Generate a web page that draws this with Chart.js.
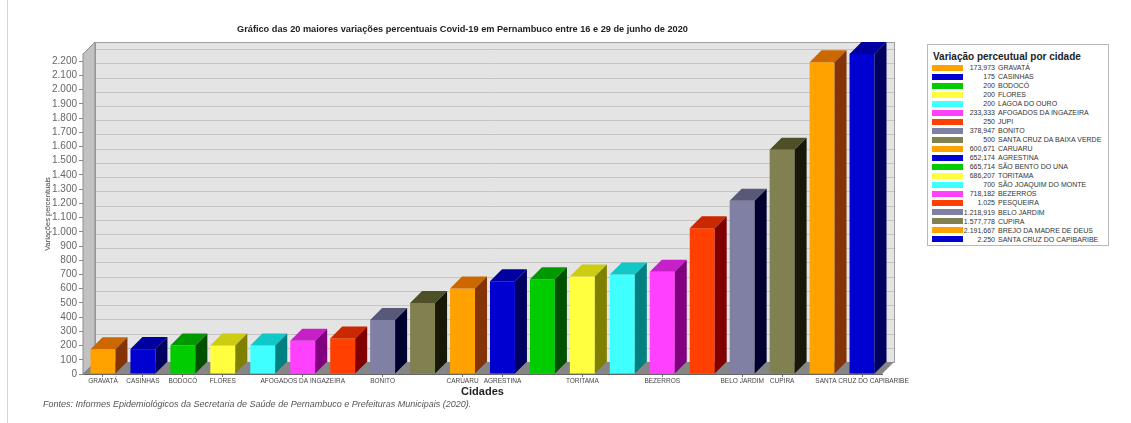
<!DOCTYPE html>
<html lang="pt-BR">
<head>
<meta charset="utf-8">
<title>Variações percentuais Covid-19 em Pernambuco</title>
<script src="https://cdn.jsdelivr.net/npm/chart.js@4.4.1/dist/chart.umd.min.js"></script>
<style>
  body { margin: 0; background: #fff; font-family: "Liberation Sans", Arial, sans-serif; }
  .wrap { position: relative; width: 1131px; height: 423px; overflow: hidden; }
  .frame { position: absolute; left: 7px; top: 0; width: 0; height: 423px; border-left: 1px solid #d4d4d4; }
  #chart { position: absolute; left: 0; top: 0; }
  .legend {
    position: absolute; left: 927px; top: 44px; width: 182px; height: 202px;
    border: 1px solid #b8b8b8; background: #fff; box-sizing: border-box;
  }
  .legend h4 { margin: 0; position: absolute; left: 5px; top: 5px; font-size: 10px; line-height: 13px; color: #222; }
  .legend .rows { position: absolute; left: 3px; top: 18px; }
  .legend .row { position: relative; height: 9.04px; width: 178px; font-size: 7px; color: #333; }
  .legend .sw { position: absolute; left: 1px; top: 1.5px; width: 31px; height: 6px; }
  .legend .num { position: absolute; right: 114px; top: 0; line-height: 9px; text-align: right; }
  .legend .nm { position: absolute; left: 67px; top: 0; line-height: 9px; white-space: nowrap; }
  .source { position: absolute; left: 43px; top: 399px; font-size: 9px; font-style: italic; color: #555; white-space: nowrap; }
</style>
</head>
<body>
<div class="wrap">
  <div class="frame"></div>
  <canvas id="chart" width="955" height="423"></canvas>
  <div class="legend">
    <h4>Variação perceutual por cidade</h4>
    <div class="rows" id="legendRows"></div>
  </div>
  <div class="source">Fontes: Informes Epidemiológicos da Secretaria de Saúde de Pernambuco e Prefeituras Municipais (2020).</div>
</div>

<script>
// data
const cidades = [
  'GRAVATÁ', 'CASINHAS', 'BODOCÓ', 'FLORES', 'LAGOA DO OURO',
  'AFOGADOS DA INGAZEIRA', 'JUPI', 'BONITO', 'SANTA CRUZ DA BAIXA VERDE', 'CARUARU',
  'AGRESTINA', 'SÃO BENTO DO UNA', 'TORITAMA', 'SÃO JOAQUIM DO MONTE', 'BEZERROS',
  'PESQUEIRA', 'BELO JARDIM', 'CUPIRA', 'BREJO DA MADRE DE DEUS', 'SANTA CRUZ DO CAPIBARIBE'
];
const variacoes = [
  173.973, 175, 200, 200, 200,
  233.333, 250, 378.947, 500, 600.671,
  652.174, 665.714, 686.207, 700, 718.182,
  1025, 1218.919, 1577.778, 2191.667, 2250
];
// labels the original axis actually prints (others dropped for overlap)
const xTickLabels = [
  'GRAVATÁ', 'CASINHAS', 'BODOCÓ', 'FLORES', '',
  'AFOGADOS DA INGAZEIRA', '', 'BONITO', '', 'CARUARU',
  'AGRESTINA', '', 'TORITAMA', '', 'BEZERROS',
  '', 'BELO JARDIM', 'CUPIRA', '', 'SANTA CRUZ DO CAPIBARIBE'
];
const yMax = 2250;
const yStep = 100;

const titulo = 'Gráfico das 20 maiores variações percentuais Covid-19 em Pernambuco entre 16 e 29 de junho de 2020';

// colours repeat every 9 bars
const frontColors = ['#FFA200', '#0000D0', '#00CC00', '#FFFF40', '#40FFFF', '#FF40FF', '#FF4000', '#8080A4', '#808050'];
const topColors   = ['#CC6800', '#0000A0', '#009A00', '#CCCC10', '#10C8C8', '#C820C8', '#CC2800', '#585878', '#505028'];
const sideColors  = ['#843408', '#000060', '#005000', '#808000', '#008080', '#800080', '#800000', '#000030', '#181808'];
const depth = 12;

const fmt = v => v.toLocaleString('pt-BR', { maximumFractionDigits: 3 });

// legend
document.getElementById('legendRows').innerHTML = cidades.map((c, i) => `
  <div class="row">
    <span class="sw" style="background:${frontColors[i % 9]}"></span>
    <span class="num">${fmt(variacoes[i])}</span>
    <span class="nm">${c}</span>
  </div>`).join('');

// walls, floor and bar depth faces
const box3d = {
  id: 'box3d',
  beforeDatasetsDraw(chart) {
    const { ctx, chartArea: a, scales: { y } } = chart;
    ctx.save();
    // back wall
    ctx.fillStyle = '#e4e4e4';
    ctx.fillRect(a.left + depth, a.top - depth, a.width, a.height);
    ctx.strokeStyle = '#c4c4c4';
    ctx.lineWidth = 1;
    y.ticks.forEach(t => {
      const py = Math.round(y.getPixelForValue(t.value) - depth) + 0.5;
      ctx.beginPath();
      ctx.moveTo(a.left + depth, py);
      ctx.lineTo(a.right + depth, py);
      ctx.stroke();
    });
    ctx.strokeStyle = '#a0a0a0';
    ctx.strokeRect(a.left + depth + 0.5, a.top - depth + 0.5, a.width, a.height);
    // left wall
    ctx.fillStyle = '#c2c2c2';
    ctx.strokeStyle = '#8c8c8c';
    ctx.beginPath();
    ctx.moveTo(a.left, a.bottom);
    ctx.lineTo(a.left, a.top);
    ctx.lineTo(a.left + depth, a.top - depth);
    ctx.lineTo(a.left + depth, a.bottom - depth);
    ctx.closePath();
    ctx.fill();
    ctx.stroke();
    // floor
    ctx.fillStyle = '#868686';
    ctx.beginPath();
    ctx.moveTo(a.left, a.bottom);
    ctx.lineTo(a.right, a.bottom);
    ctx.lineTo(a.right + depth, a.bottom - depth);
    ctx.lineTo(a.left + depth, a.bottom - depth);
    ctx.closePath();
    ctx.fill();
    ctx.restore();
  },
  afterDatasetsDraw(chart) {
    const { ctx } = chart;
    ctx.save();
    chart.getDatasetMeta(0).data.forEach((bar, i) => {
      const { x, y, width, base } = bar.getProps(['x', 'y', 'width', 'base'], true);
      const l = x - width / 2, r = x + width / 2;
      ctx.fillStyle = topColors[i % 9];
      ctx.beginPath();
      ctx.moveTo(l, y);
      ctx.lineTo(r, y);
      ctx.lineTo(r + depth, y - depth);
      ctx.lineTo(l + depth, y - depth);
      ctx.closePath();
      ctx.fill();
      ctx.fillStyle = sideColors[i % 9];
      ctx.beginPath();
      ctx.moveTo(r, y);
      ctx.lineTo(r + depth, y - depth);
      ctx.lineTo(r + depth, base - depth);
      ctx.lineTo(r, base);
      ctx.closePath();
      ctx.fill();
    });
    ctx.restore();
  }
};

new Chart(document.getElementById('chart'), {
  type: 'bar',
  data: {
    labels: cidades,
    datasets: [{
      label: 'Variação percentual',
      data: variacoes,
      backgroundColor: cidades.map((c, i) => frontColors[i % 9]),
      borderWidth: 0,
      barPercentage: 0.625,
      categoryPercentage: 1
    }]
  },
  options: {
    responsive: false,
    animation: false,
    locale: 'pt-BR',
    layout: { padding: { left: 43, right: 73, top: 0, bottom: 24 } },
    plugins: {
      legend: { display: false },
      tooltip: { enabled: false },
      title: {
        display: true,
        text: titulo,
        color: '#222',
        font: { family: '"Liberation Sans", Arial, sans-serif', size: 9.2, weight: 'bold' },
        padding: { top: 24, bottom: 19 }
      }
    },
    scales: {
      x: {
        ticks: {
          autoSkip: false,
          maxRotation: 0,
          padding: 0,
          color: '#444',
          font: { family: '"Liberation Sans", Arial, sans-serif', size: 6.5 },
          callback: (v, i) => xTickLabels[i]
        },
        grid: {
          drawOnChartArea: false,
          offset: false,
          tickLength: 3,
          color: ctx => xTickLabels[ctx.index] ? '#777' : 'rgba(0,0,0,0)'
        },
        border: { color: '#666' },
        title: {
          display: true,
          text: 'Cidades',
          color: '#222',
          font: { family: '"Liberation Sans", Arial, sans-serif', size: 11, weight: 'bold' },
          padding: { top: 1, bottom: 0 }
        }
      },
      y: {
        min: 0,
        max: yMax,
        afterBuildTicks: s => { s.ticks = s.ticks.filter(t => t.value % yStep === 0); },
        afterFit: s => { s.width = 40; },
        ticks: {
          stepSize: yStep,
          includeBounds: false,
          autoSkip: false,
          padding: 2,
          color: '#666',
          font: { family: '"Liberation Sans", Arial, sans-serif', size: 10 }
        },
        grid: { drawOnChartArea: false, tickLength: 4, color: '#888' },
        border: { color: '#8c8c8c' },
        title: {
          display: true,
          text: 'Variações percentuais',
          color: '#444',
          font: { family: '"Liberation Sans", Arial, sans-serif', size: 7.5 },
          padding: 0
        }
      }
    }
  },
  plugins: [box3d]
});
</script>
</body>
</html>
